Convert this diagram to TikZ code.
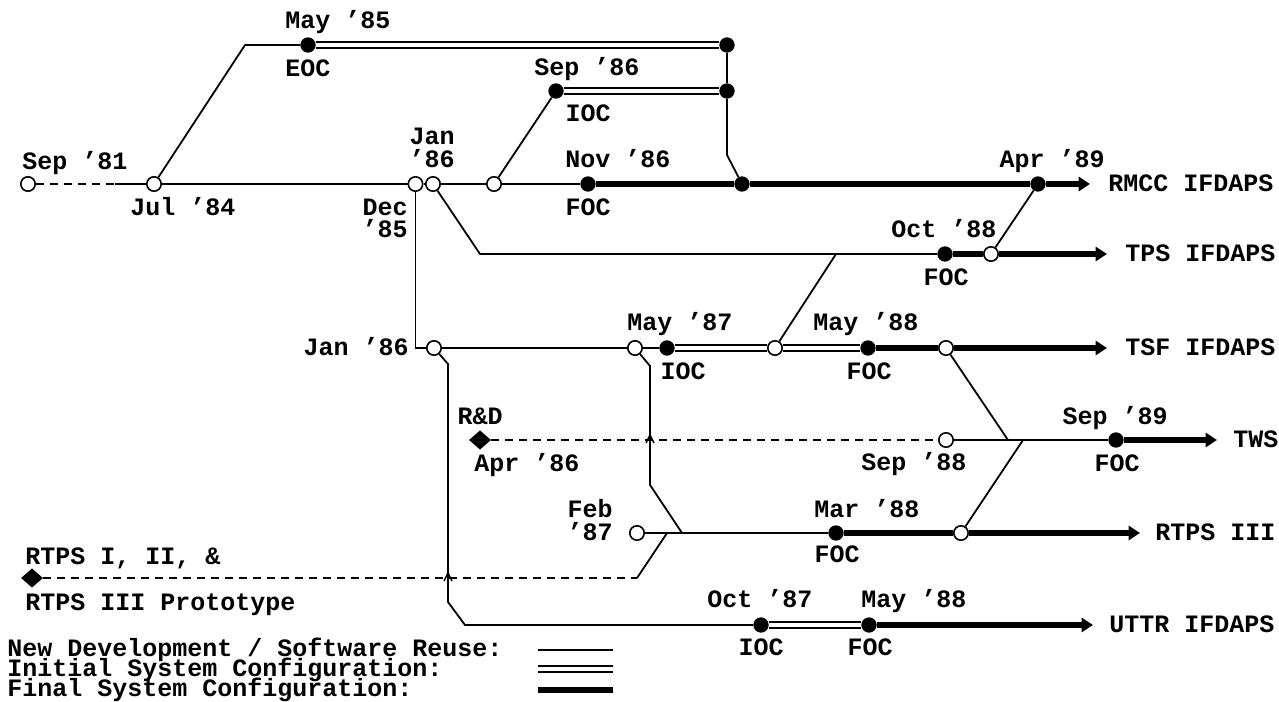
\documentclass[tikz,border=0pt]{standalone}
\usepackage{fontspec}
\setmainfont{Liberation Mono}
\usetikzlibrary{arrows.meta,shapes.geometric}
\begin{document}
\begin{tikzpicture}[x=0.75pt,y=-0.75pt,
  lab/.style={inner sep=0pt,text height=10.7pt,text depth=0pt,font=\fontsize{18.75}{22}\selectfont\bfseries},
  oc/.style={circle,draw,fill=white,line width=1.2pt,minimum size=10.8pt,inner sep=0pt},
  fc/.style={circle,fill=black,minimum size=11.5pt,inner sep=0pt},
  dm/.style={diamond,fill=black,minimum width=16.5pt,minimum height=14.5pt,inner sep=0pt},
  ln/.style={line width=1.35pt},
  dl/.style={line width=1.15pt,double,double distance=3.4pt},
  tk/.style={line width=4.6pt},
  ds/.style={line width=1.35pt,dash pattern=on 6pt off 4.5pt},
  arr/.style={-{Triangle[length=8.5pt,width=10.5pt]}}]
\fill[white] (0,0) rectangle (1279,702);
\useasboundingbox (0,0) rectangle (1279,702);

% ---------- RMCC row ----------
\node[oc] (sep81) at (28,184) {};
\coordinate (d115) at (115,184);
\node[oc] (jul84) at (154,184) {};
\coordinate (c245) at (245,45);
\node[fc] (may85) at (308,45) {};
\node[fc] (t727) at (727,45) {};
\node[fc] (s727) at (727,91) {};
\node[fc] (ioc86) at (556,91) {};
\coordinate (v727) at (727,155);
\node[fc] (j742) at (742,184) {};
\node[oc] (dec85) at (415.5,184) {};
\node[oc] (jan86) at (433,184) {};
\node[oc] (br494) at (494,184) {};
\node[fc] (nov86) at (588,184) {};
\node[fc] (apr89) at (1038,184) {};
\coordinate (rmccE) at (1090,184);

\draw[ds] (sep81) -- (d115);
\draw[ln] (d115) -- (jul84);
\draw[ln] (jul84) -- (c245) -- (may85);
\draw[dl] (may85) -- (t727);
\draw[ln] (t727) -- (s727);
\draw[dl] (ioc86) -- (s727);
\draw[ln] (s727) -- (v727) -- (j742);
\draw[ln] (jul84) -- (dec85);
\draw[ln] (dec85) -- (jan86);
\draw[ln] (jan86) -- (br494);
\draw[ln] (br494) -- (nov86);
\draw[ln] (br494) -- (ioc86);
\draw[tk] (nov86) -- (j742);
\draw[tk] (j742) -- (apr89);
\draw[tk,arr] (apr89) -- (rmccE);

% ---------- TPS row ----------
\coordinate (c480) at (480,254);
\coordinate (c836) at (836,254);
\node[fc] (oct88) at (945,254) {};
\node[oc] (tpso) at (991,254) {};
\coordinate (tpsE) at (1107,254);
\draw[ln] (jan86) -- (c480) -- (oct88);
\draw[tk] (oct88) -- (tpso);
\draw[tk,arr] (tpso) -- (tpsE);
\draw[ln] (tpso) -- (apr89);

% ---------- TSF row ----------
\node[oc] (tsfjan) at (434,348) {};
\node[oc] (may87) at (635,348) {};
\node[fc] (ioc87) at (667,348) {};
\node[oc] (tsfm) at (775,348) {};
\node[fc] (foc88) at (868,348) {};
\node[oc] (tsfo) at (946,348) {};
\coordinate (tsfE) at (1107,348);
\draw[ln] (dec85) |- (tsfjan);
\draw[ln] (tsfjan) -- (may87);
\draw[ln] (may87) -- (ioc87);
\draw[dl] (ioc87) -- (tsfm);
\draw[dl] (tsfm) -- (foc88);
\draw[tk] (foc88) -- (tsfo);
\draw[tk,arr] (tsfo) -- (tsfE);
\draw[ln] (tsfm) -- (c836);

% ---------- TWS row ----------
\node[dm] (rd) at (480,440) {};
\node[oc] (sep88) at (946,440) {};
\node[fc] (sep89) at (1116,440) {};
\coordinate (twsE) at (1217,440);
\coordinate (c1008) at (1008,440);
\coordinate (c1023) at (1023,440);
\draw[ds] (rd) -- (sep88);
\draw[ln] (sep88) -- (sep89);
\draw[tk,arr] (sep89) -- (twsE);
\draw[ln] (tsfo) -- (c1008);

% ---------- RTPS III row ----------
\node[oc] (feb87) at (637,533) {};
\node[fc] (mar88) at (836,533) {};
\node[oc] (rtpso) at (961,533) {};
\coordinate (rtpsE) at (1140,533);
\coordinate (c667) at (667,533);
\coordinate (c682) at (682,533);
\coordinate (m1) at (650,366);
\coordinate (m2) at (650,485);
\draw[ln] (feb87) -- (mar88);
\draw[tk] (mar88) -- (rtpso);
\draw[tk,arr] (rtpso) -- (rtpsE);
\draw[ln] (rtpso) -- (c1023);
\draw[ln] (may87) -- (m1) -- (m2) -- (c682);

% ---------- prototype ----------
\node[dm] (proto) at (32,578) {};
\coordinate (c637) at (637,578);
\draw[ds] (proto) -- (c637);
\draw[ln] (c637) -- (c667);

% ---------- UTTR row ----------
\coordinate (u1) at (448,364);
\coordinate (u2) at (448,602);
\coordinate (u3) at (465,625);
\node[fc] (oct87) at (761,625) {};
\node[fc] (may88u) at (869,625) {};
\coordinate (uttrE) at (1093,625);
\draw[ln] (tsfjan) -- (u1) -- (u2) -- (u3) -- (oct87);
\draw[dl] (oct87) -- (may88u);
\draw[tk,arr] (may88u) -- (uttrE);

% hops
\draw[line width=1.1pt] (646,443) -- (650,435) -- (654,443);
\draw[line width=1.1pt] (444,581) -- (448,573) -- (452,581);

% ---------- labels ----------
\node[lab] (l1) at (75,162) {Sep ’81};
\node[lab] (l2) at (183,208) {Jul ’84};
\node[lab] (l3) at (338,21) {May ’85};
\node[lab] (l4) at (308,69) {EOC};
\node[lab] (l5) at (587,68) {Sep ’86};
\node[lab] (l6) at (588,114) {IOC};
\node[lab] (l7) at (432,137) {Jan};
\node[lab] (l8) at (432,160) {’86};
\node[lab,anchor=east] (l9) at (408,208) {Dec};
\node[lab,anchor=east] (l10) at (408,230) {’85};
\node[lab] (l11) at (618,160) {Nov ’86};
\node[lab] (l12) at (588,208) {FOC};
\node[lab] (l13) at (1052,160) {Apr ’89};
\node[lab,anchor=west] (l14) at (1108,184) {RMCC IFDAPS};
\node[lab] (l15) at (944,230) {Oct ’88};
\node[lab] (l16) at (946,278) {FOC};
\node[lab,anchor=west] (l17) at (1125,254) {TPS IFDAPS};
\node[lab,anchor=east] (l18) at (409,348) {Jan ’86};
\node[lab] (l19) at (680,323) {May ’87};
\node[lab] (l20) at (683,372) {IOC};
\node[lab] (l21) at (866,323) {May ’88};
\node[lab] (l22) at (869,372) {FOC};
\node[lab,anchor=west] (l23) at (1125,348) {TSF IFDAPS};
\node[lab] (l24) at (480,417) {R\&D};
\node[lab] (l25) at (527,464) {Apr ’86};
\node[lab] (l26) at (914,463) {Sep ’88};
\node[lab] (l27) at (1115,417) {Sep ’89};
\node[lab] (l28) at (1117,464) {FOC};
\node[lab,anchor=west] (l29) at (1233,440) {TWS};
\node[lab,anchor=east] (l30) at (613,510) {Feb};
\node[lab,anchor=east] (l31) at (613,533) {’87};
\node[lab] (l32) at (867,510) {Mar ’88};
\node[lab] (l33) at (837,555) {FOC};
\node[lab,anchor=west] (l34) at (1155,533) {RTPS III};
\node[lab,anchor=west] (l35) at (25,557) {RTPS I, II, \&};
\node[lab,anchor=west] (l36) at (25,603) {RTPS III Prototype};
\node[lab] (l37) at (760,600) {Oct ’87};
\node[lab] (l38) at (914,600) {May ’88};
\node[lab] (l39) at (761,648) {IOC};
\node[lab] (l40) at (870,648) {FOC};
\node[lab,anchor=west] (l41) at (1109,625) {UTTR IFDAPS};

% ---------- legend ----------
\node[lab,anchor=west] (lg1) at (7,649) {New Development / Software Reuse:};
\node[lab,anchor=west] (lg2) at (7,669) {Initial System Configuration:};
\node[lab,anchor=west] (lg3) at (7,689) {Final System Configuration:};
\coordinate (k1a) at (538,650); \coordinate (k1b) at (613,650);
\coordinate (k2a) at (538,669); \coordinate (k2b) at (613,669);
\coordinate (k3a) at (538,690); \coordinate (k3b) at (613,690);
\draw[ln] (k1a) -- (k1b);
\draw[dl] (k2a) -- (k2b);
\draw[tk] (k3a) -- (k3b);
\end{tikzpicture}
\end{document}
